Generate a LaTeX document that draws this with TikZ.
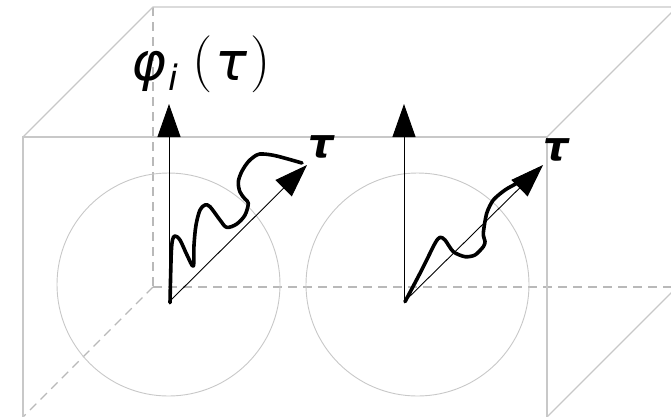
\documentclass[tikz,border=0pt]{standalone}
\usepackage{fontspec}
\setsansfont{DejaVu Sans}
\usetikzlibrary{arrows.meta}
\definecolor{boxgray}{RGB}{200,200,200}
\definecolor{dashgray}{RGB}{185,185,185}
\definecolor{circgray}{RGB}{200,200,200}
\tikzset{
  boxline/.style={draw=boxgray, line width=1.3pt},
  backline/.style={draw=dashgray, line width=1.1pt, dash pattern=on 9pt off 6pt},
  ring/.style={draw=circgray, line width=0.9pt},
  axis/.style={draw=black, line width=0.9pt, -{Triangle[length=33pt,width=23pt]}},
  wiggle/.style={draw=black, line width=3.6pt, line join=round, line cap=round},
  taulabel/.style={font=\fontsize{40}{42}\selectfont\sffamily\bfseries\itshape, inner sep=0pt, anchor=base},
  bigsym/.style={font=\fontsize{53}{56}\selectfont\sffamily\itshape, inner sep=0pt, anchor=base},
  subsym/.style={font=\fontsize{35}{38}\selectfont\sffamily\itshape, inner sep=0pt, anchor=base},
  paren/.style={font=\fontsize{57}{62}\selectfont\rmfamily, inner sep=0pt, anchor=base}
}
\begin{document}
\begin{tikzpicture}[x=1pt,y=-1pt]
\useasboundingbox (0,0) rectangle (671,416);
\clip (0,0) rectangle (671,416);
% box corners
\coordinate (ftl) at (23,137);
\coordinate (ftr) at (547,137);
\coordinate (fbl) at (23,417);
\coordinate (fbr) at (547,417);
\coordinate (btl) at (153,7);
\coordinate (btr) at (677,7);
\coordinate (bbl) at (153,287);
\coordinate (bbr) at (677,287);
% hidden back edges
\draw[backline] (btl) -- (bbl);
\draw[backline] (bbl) -- (bbr);
\draw[backline] (bbl) -- (fbl);
% visible edges
\draw[boxline] (fbl) -- (ftl) -- (ftr) -- (fbr);
\draw[boxline] (ftl) -- (btl) -- (btr);
\draw[boxline] (ftr) -- (btr);
\draw[boxline] (fbr) -- (bbr);
% circles
\node[ring, circle, minimum size=223pt, inner sep=0pt] (c1) at (168.5,284.5) {};
\node[ring, circle, minimum size=223pt, inner sep=0pt] (c2) at (417.5,284.5) {};
% axes
\coordinate (o1) at (169,302);
\coordinate (v1) at (169,104);
\coordinate (d1) at (307,165);
\coordinate (o2) at (404,302);
\coordinate (v2) at (404,104);
\coordinate (d2) at (543,165);
\draw[axis] (o1) -- (v1);
\draw[axis] (o1) -- (d1);
\draw[axis] (o2) -- (v2);
\draw[axis] (o2) -- (d2);
% wiggly paths
\draw[wiggle] plot[smooth, tension=0.55] coordinates {
 (170,302.7) (171.2,255) (172.5,240) (175,236) (180,240) (187,255) (193.3,266)
 (194,245) (196,225) (200,210) (205,205) (210,206.7) (220,220) (226.7,227.3)
 (236.7,224) (245,215) (248.3,203.3) (245,199) (240,192) (238.3,182)
 (241.7,171.7) (248.3,161.7) (256.7,155) (263.3,154) (276.7,156) (302,163)};
\draw[wiggle] plot[smooth, tension=0.45] coordinates {
 (405,301.7) (421.7,270) (435,243.3) (440,237.3) (445,240) (453.3,251.7)
 (465,256.7) (475,255) (483.3,246.7) (485,241.7) (483.3,233.3) (486.7,213.3)
 (493.3,200) (505,190) (516.7,183.3) (528,176)};
% labels
\node[bigsym] (phi) at (149,80) {φ};
\node[subsym] (sub) at (173,90) {i};
\node[paren] (lp) at (203,78) {(};
\node[bigsym] (arg) at (231,80) {τ};
\node[paren] (rp) at (261,78) {)};
\node[taulabel] (t1) at (321,157) {τ};
\node[taulabel] (t2) at (556,160) {τ};
\end{tikzpicture}
\end{document}
